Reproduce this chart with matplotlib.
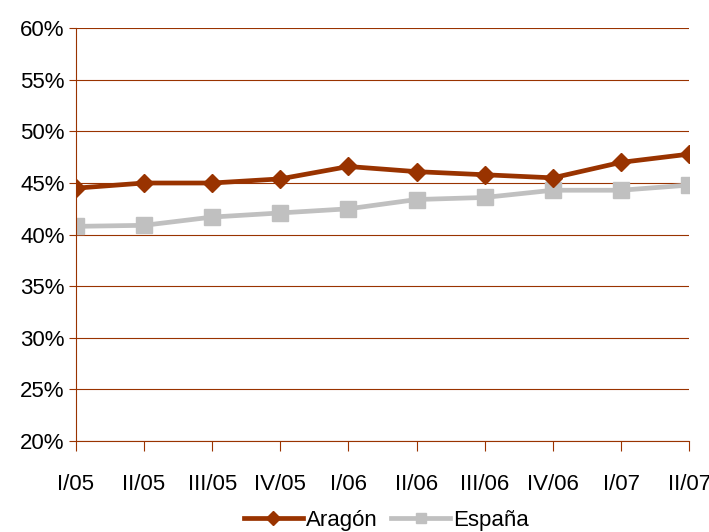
import matplotlib.pyplot as plt
from matplotlib.ticker import FuncFormatter

periods = ['I/05', 'II/05', 'III/05', 'IV/05', 'I/06', 'II/06', 'III/06', 'IV/06', 'I/07', 'II/07']
aragon = [44.5, 45.0, 45.0, 45.4, 46.6, 46.1, 45.8, 45.5, 47.0, 47.8]
espana = [40.8, 40.9, 41.7, 42.1, 42.5, 43.4, 43.6, 44.3, 44.3, 44.8]

plt.rcParams['font.family'] = ['Liberation Sans', 'DejaVu Sans']

brown = '#993300'
grey = '#C0C0C0'

fig = plt.figure(figsize=(7.09, 5.32), dpi=100)
ax = fig.add_axes([0.107, 0.171, 0.865, 0.776])

x = list(range(len(periods)))
ax.plot(x, aragon, color=brown, lw=3.4, marker='D', ms=9.5, label='Aragón', zorder=3)
ax.plot(x, espana, color=grey, lw=3.4, marker='s', ms=11, label='España', zorder=2)

ax.set_xlim(0, len(periods) - 1)
ax.set_ylim(20, 60)
ax.set_yticks(range(20, 61, 5))
ax.yaxis.set_major_formatter(FuncFormatter(lambda v, p: f'{v:.0f}%'))
ax.set_xticks(x)
ax.set_xticklabels(periods)
ax.grid(axis='y', color=brown, lw=0.8)
ax.set_axisbelow(True)

for s in ['top', 'right']:
    ax.spines[s].set_visible(False)
for s in ['left', 'bottom']:
    ax.spines[s].set_color(brown)
    ax.spines[s].set_linewidth(0.8)
ax.tick_params(axis='both', colors=brown, width=0.8, labelsize=16, labelcolor='black')
ax.tick_params(axis='x', length=7, pad=17)
ax.tick_params(axis='y', length=5, pad=3)

fig.legend(*ax.get_legend_handles_labels(), loc='center', bbox_to_anchor=(0.545, 0.022),
           ncol=2, frameon=False, fontsize=16, handlelength=2.65, columnspacing=0.6,
           handletextpad=0.15, markerscale=0.7)

fig.savefig('out.png', dpi=100)
